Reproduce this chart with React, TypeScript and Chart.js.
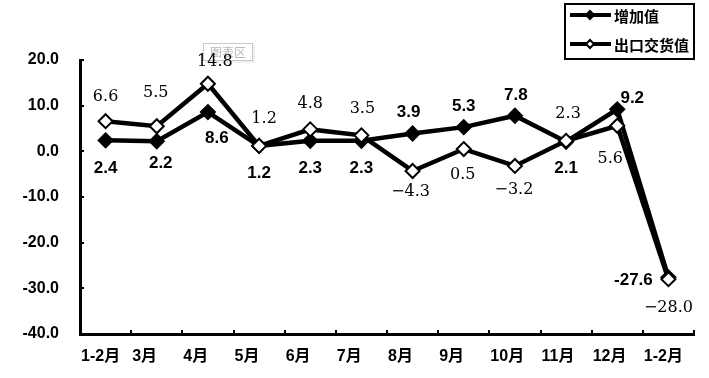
import React, { useEffect, useRef } from "react";
import { Chart, registerables } from "chart.js";

Chart.register(...registerables);

const categories = ["1-2月", "3月", "4月", "5月", "6月", "7月", "8月", "9月", "10月", "11月", "12月", "1-2月"];
const seriesNames = ["增加值", "出口交货值"];
const addedValue = [2.4, 2.2, 8.6, 1.2, 2.3, 2.3, 3.9, 5.3, 7.8, 2.1, 9.2, -27.6];
const exportValue = [6.6, 5.5, 14.8, 1.2, 4.8, 3.5, -4.3, 0.5, -3.2, 2.3, 5.6, -28.0];
const yMin = -40;
const yMax = 20;
const yStep = 10;

// label placement offsets (style only)
const addedLabelOffsets = [[0, 28], [4, 22], [9, 26], [0, 27], [0, 27], [0, 27], [-4, -21], [0, -21], [1, -20], [0, 27], [15, -11], [-35, 3]];
const exportLabelOffsets = [[0, -24], [-1, -33], [7, -22], [5, -27], [0, -26], [1, -27], [-2, 21], [-1, 26], [-1, 24], [2, -27], [-7, 33], [0, 29]];

const SANS = '"Liberation Sans", Arial, "Noto Sans CJK SC", sans-serif';
const CJK = '"Noto Sans CJK SC", "Liberation Sans", sans-serif';
const SERIF = '"DejaVu Serif", "Liberation Serif", serif';

function diamond(ctx: CanvasRenderingContext2D, x: number, y: number, r: number, fill: string) {
  ctx.beginPath();
  ctx.moveTo(x, y - r);
  ctx.lineTo(x + r, y);
  ctx.lineTo(x, y + r);
  ctx.lineTo(x - r, y);
  ctx.closePath();
  ctx.fillStyle = fill;
  ctx.fill();
  ctx.lineWidth = 2;
  ctx.strokeStyle = "#000";
  ctx.stroke();
}

const customPlugin = {
  id: "custom",
  beforeDatasetsDraw(chart: any) {
    const ctx = chart.ctx as CanvasRenderingContext2D;
    const xs = chart.scales.x;
    const ys = chart.scales.y;
    const area = chart.chartArea;
    ctx.save();
    ctx.strokeStyle = "#000";
    ctx.lineWidth = 2;
    for (let v = yMin; v <= yMax; v += yStep) {
      const py = Math.round(ys.getPixelForValue(v));
      ctx.beginPath();
      ctx.moveTo(area.left, py);
      ctx.lineTo(area.left + 4, py);
      ctx.stroke();
    }
    const n = categories.length;
    const w = (area.right - area.left) / n;
    for (let i = 0; i <= n; i++) {
      const px = Math.round(area.left + i * w);
      ctx.beginPath();
      ctx.moveTo(px, area.bottom);
      ctx.lineTo(px, area.bottom - 4);
      ctx.stroke();
    }
    ctx.fillStyle = "#000";
    ctx.font = "bold 16px " + SANS;
    ctx.textAlign = "left";
    ctx.textBaseline = "middle";
    categories.forEach((c, i) => {
      const px = xs.getPixelForValue(i) - w / 2;
      ctx.fillText(c, px + 1, area.bottom + 23);
    });
    // "图表区" hint box
    ctx.fillStyle = "#fff";
    ctx.strokeStyle = "#c8c8c8";
    ctx.lineWidth = 1;
    ctx.fillRect(203.5, 43.5, 49, 17);
    ctx.strokeRect(203.5, 43.5, 49, 17);
    ctx.strokeStyle = "#e0e0e0";
    ctx.beginPath();
    ctx.moveTo(205, 62);
    ctx.lineTo(254, 62);
    ctx.lineTo(254, 45);
    ctx.stroke();
    ctx.fillStyle = "#b8b8b8";
    ctx.font = "12px " + CJK;
    ctx.textAlign = "center";
    ctx.fillText("图表区", 228, 52);
    ctx.restore();
  },
  afterDatasetsDraw(chart: any) {
    const ctx = chart.ctx as CanvasRenderingContext2D;
    const xs = chart.scales.x;
    const ys = chart.scales.y;
    ctx.save();
    ctx.fillStyle = "#000";
    ctx.textAlign = "center";
    ctx.textBaseline = "middle";
    ctx.font = "bold 17px " + SANS;
    addedValue.forEach((v, i) => {
      const [dx, dy] = addedLabelOffsets[i];
      ctx.fillText(v.toFixed(1), xs.getPixelForValue(i) + dx, ys.getPixelForValue(v) + dy);
    });
    ctx.font = "16px " + SERIF;
    exportValue.forEach((v, i) => {
      const [dx, dy] = exportLabelOffsets[i];
      ctx.fillText(v.toFixed(1).replace("-", "\u2212"), xs.getPixelForValue(i) + dx, ys.getPixelForValue(v) + dy);
    });
    // legend
    ctx.strokeStyle = "#000";
    ctx.lineWidth = 2;
    ctx.fillStyle = "#fff";
    ctx.fillRect(565, 4, 129, 55);
    ctx.strokeRect(565, 4, 129, 55);
    const rows = [15, 44];
    const fills = ["#000", "#fff"];
    rows.forEach((ry, k) => {
      ctx.lineWidth = 4;
      ctx.strokeStyle = "#000";
      ctx.beginPath();
      ctx.moveTo(570, ry);
      ctx.lineTo(611, ry);
      ctx.stroke();
      diamond(ctx, 590, ry, 4, fills[k]);
      ctx.fillStyle = "#000";
      ctx.font = "bold 15px " + CJK;
      ctx.textAlign = "left";
      ctx.textBaseline = "middle";
      ctx.fillText(seriesNames[k], 614, ry + 1);
    });
    ctx.restore();
  },
};

export default function App() {
  const ref = useRef<HTMLCanvasElement>(null);
  useEffect(() => {
    if (!ref.current) return;
    const chart = new Chart(ref.current, {
      type: "line",
      data: {
        labels: categories,
        datasets: [
          {
            label: seriesNames[0],
            data: addedValue,
            borderColor: "#000",
            borderWidth: 4.5,
            pointStyle: "rectRot",
            pointRadius: 7,
            pointBackgroundColor: "#000",
            pointBorderColor: "#000",
            pointBorderWidth: 2,
            order: 1,
            tension: 0,
          },
          {
            label: seriesNames[1],
            data: exportValue,
            borderColor: "#000",
            borderWidth: 4.5,
            pointStyle: "rectRot",
            pointRadius: 7,
            pointBackgroundColor: "#fff",
            pointBorderColor: "#000",
            pointBorderWidth: 2,
            order: 0,
            tension: 0,
          },
        ],
      },
      options: {
        responsive: false,
        animation: false,
        devicePixelRatio: 1,
        layout: { padding: { left: 0, right: 15, top: 60, bottom: 0 } },
        plugins: { legend: { display: false }, tooltip: { enabled: false } },
        scales: {
          x: {
            type: "category",
            offset: true,
            grid: { display: true, drawOnChartArea: false, drawTicks: false, color: "rgba(0,0,0,0)" },
            border: { display: true, color: "#000", width: 3 },
            ticks: { display: false },
            afterFit: (s: any) => { s.height = 44; },
          },
          y: {
            min: yMin,
            max: yMax,
            grid: { display: true, drawOnChartArea: false, drawTicks: false, color: "rgba(0,0,0,0)" },
            border: { display: true, color: "#000", width: 3 },
            ticks: {
              stepSize: yStep,
              padding: 21,
              color: "#000",
              font: { family: SANS, size: 16, weight: "bold" },
              callback: (v: any) => Number(v).toFixed(1),
            },
            afterFit: (s: any) => { s.width = 80; },
          },
        },
      },
      plugins: [customPlugin],
    } as any);
    return () => chart.destroy();
  }, []);
  return (
    <div style={{ position: "fixed", left: 0, top: 0, width: 709, height: 378, background: "#fff" }}>
      <canvas ref={ref} width={709} height={378} style={{ display: "block" }} />
    </div>
  );
}
